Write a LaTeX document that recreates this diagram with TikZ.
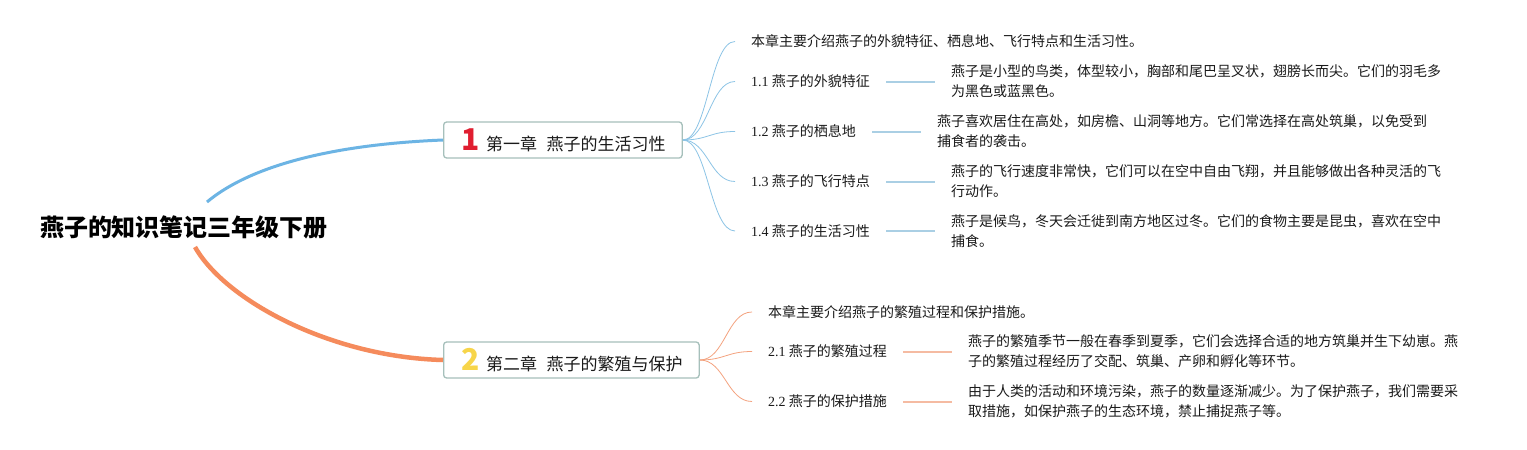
\documentclass[tikz,border=0pt]{standalone}
\usepackage{fontspec}
\setmainfont{Noto Sans CJK SC}
\newfontfamily\lat{Liberation Serif}
\definecolor{mainblue}{HTML}{6CB4E4}
\definecolor{mainorange}{HTML}{F58B5C}
\definecolor{thinblue}{HTML}{8CC4E6}
\definecolor{thinorange}{HTML}{F4A27E}
\definecolor{subblue}{HTML}{AACFE4}
\definecolor{suborange}{HTML}{F5BBA2}
\definecolor{boxc}{HTML}{A6C0BB}
\definecolor{numred}{HTML}{E01E30}
\definecolor{numyellow}{HTML}{F7D54A}
\definecolor{txt}{HTML}{1A1A1A}
\begin{document}
\begin{tikzpicture}[x=1pt,y=-1pt,
  chap/.style={draw=boxc, line width=1.3pt, rounded corners=3pt, fill=white,
    minimum height=36pt, inner xsep=16.5pt, inner ysep=0pt,
    font=\fontsize{17}{17}\selectfont, text=txt, anchor=west},
  lab/.style={inner xsep=16pt, inner ysep=2pt, font=\fontsize{14}{20}\selectfont, text=txt, anchor=west},
  det/.style={inner xsep=16pt, inner ysep=2pt, font=\fontsize{14}{20}\selectfont, text=txt, align=left, anchor=west},
  bluebranch/.style={draw=thinblue, line width=0.8pt},
  orangebranch/.style={draw=thinorange, line width=0.8pt},
  bluesub/.style={draw=subblue, line width=2pt},
  orangesub/.style={draw=suborange, line width=2pt}]
\useasboundingbox (0,0) rectangle (1527,450);
\fill[white] (0,0) rectangle (1527,450);

% root
\node[font=\fontsize{24}{24}\selectfont\bfseries, text=black] (root) at (184,227) {燕子的知识笔记三年级下册};
\coordinate (r1) at (207,202);
\coordinate (r2) at (195,247);

% chapters
\node[chap] (ch1) at (443,140) {\makebox[21pt][c]{\fontsize{30}{30}\selectfont\bfseries\color{numred}1}\hspace{5pt}第一章\hspace{9.5pt}燕子的生活习性};
\node[chap] (ch2) at (443,360) {\makebox[21pt][c]{\fontsize{30}{30}\selectfont\bfseries\color{numyellow}2}\hspace{5pt}第二章\hspace{9.5pt}燕子的繁殖与保护};

\draw[mainblue, line width=3pt] (r1) .. controls (245,170) and (320,145) .. (ch1.west);
\draw[mainorange, line width=4.5pt] (r2) .. controls (225,300) and (330,357) .. (ch2.west);

% chapter 1 items
\node[lab] (a0) at (735,41.5) {本章主要介绍燕子的外貌特征、栖息地、飞行特点和生活习性。};
\node[lab] (a1) at (735,81.5) {{\lat 1.1} 燕子的外貌特征};
\node[lab] (a2) at (735,131.5) {{\lat 1.2} 燕子的栖息地};
\node[lab] (a3) at (735,181.5) {{\lat 1.3} 燕子的飞行特点};
\node[lab] (a4) at (735,231) {{\lat 1.4} 燕子的生活习性};

\node[det] (b1) at ([xshift=49pt]a1.east) {燕子是小型的鸟类，体型较小，胸部和尾巴呈叉状，翅膀长而尖。它们的羽毛多\\为黑色或蓝黑色。};
\node[det] (b2) at ([xshift=49pt]a2.east) {燕子喜欢居住在高处，如房檐、山洞等地方。它们常选择在高处筑巢，以免受到\\捕食者的袭击。};
\node[det] (b3) at ([xshift=49pt]a3.east) {燕子的飞行速度非常快，它们可以在空中自由飞翔，并且能够做出各种灵活的飞\\行动作。};
\node[det] (b4) at ([xshift=49pt]a4.east) {燕子是候鸟，冬天会迁徙到南方地区过冬。它们的食物主要是昆虫，喜欢在空中\\捕食。};

\foreach \n in {a0,a1,a2,a3,a4}
  \draw[bluebranch] (ch1.east) .. controls +(25,0) and +(-25,0) .. (\n.west);
\foreach \i in {1,2,3,4}
  \draw[bluesub] (a\i.east) -- (b\i.west);

% chapter 2 items
\node[lab] (c0) at (752,312) {本章主要介绍燕子的繁殖过程和保护措施。};
\node[lab] (c1) at (752,351.5) {{\lat 2.1} 燕子的繁殖过程};
\node[lab] (c2) at (752,401.5) {{\lat 2.2} 燕子的保护措施};

\node[det] (e1) at ([xshift=49pt]c1.east) {燕子的繁殖季节一般在春季到夏季，它们会选择合适的地方筑巢并生下幼崽。燕\\子的繁殖过程经历了交配、筑巢、产卵和孵化等环节。};
\node[det] (e2) at ([xshift=49pt]c2.east) {由于人类的活动和环境污染，燕子的数量逐渐减少。为了保护燕子，我们需要采\\取措施，如保护燕子的生态环境，禁止捕捉燕子等。};

\foreach \n in {c0,c1,c2}
  \draw[orangebranch] (ch2.east) .. controls +(25,0) and +(-25,0) .. (\n.west);
\foreach \i in {1,2}
  \draw[orangesub] (c\i.east) -- (e\i.west);
\end{tikzpicture}
\end{document}
